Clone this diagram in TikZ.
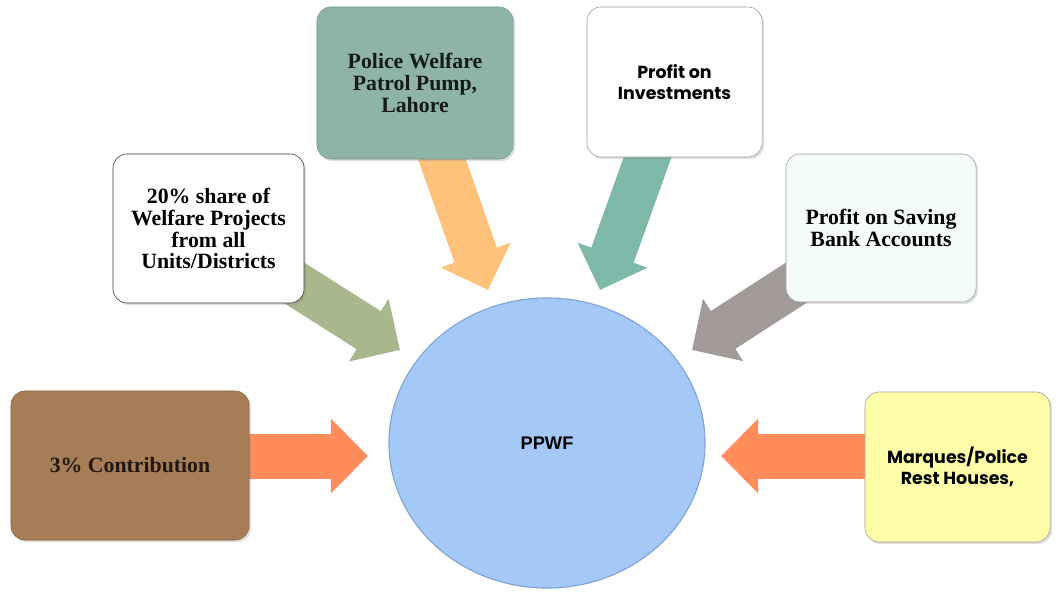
\documentclass[tikz,border=0pt]{standalone}
\usepackage{fontspec}
\usepackage{tikz}
\usetikzlibrary{shapes,arrows.meta,shadows,calc}
\newfontfamily\timesfont{Liberation Serif}
\newfontfamily\gothicfont{Poppins}
\newfontfamily\arialfont{Liberation Sans}
\pgfdeclarelayer{background}
\pgfsetlayers{background,main}
\definecolor{hubfill}{HTML}{A4C8F8}
\definecolor{hubline}{HTML}{7FA5D3}
\definecolor{pumpfill}{HTML}{8DB4A7}
\definecolor{pumpline}{HTML}{6F9788}
\definecolor{brownfill}{HTML}{A67D55}
\definecolor{brownline}{HTML}{87623F}
\definecolor{yellowfill}{HTML}{FFFFAA}
\definecolor{savefill}{HTML}{F4FBFB}
\definecolor{arrcoral}{HTML}{FF8C5A}
\definecolor{arrpeach}{HTML}{FFC27A}
\definecolor{arrteal}{HTML}{7DB8A8}
\definecolor{arrolive}{HTML}{A8B78C}
\definecolor{arrgray}{HTML}{A29A99}

\begin{document}
\begin{tikzpicture}[x=0.025cm,y=-0.025cm]
	\useasboundingbox (0,0) rectangle (1056,592);

	\tikzstyle{src}=[draw, rounded corners=0.35cm, align=center, inner sep=2pt,
		drop shadow={opacity=0.25, shadow xshift=1.5pt, shadow yshift=-1.5pt}]
	\tikzstyle{serifb}=[font=\timesfont\bfseries\fontsize{15.5}{15.6}\selectfont]
	\tikzstyle{gothicb}=[font=\gothicfont\bfseries\fontsize{12.4}{14.9}\selectfont]
	\tikzstyle{fat}=[line width=1.125cm, -{Triangle[length=0.925cm,width=1.8cm]}]

	%% Hub
	\node [ellipse, draw=hubline, thick, fill=hubfill, minimum width=7.9cm, minimum height=7.25cm,
		font=\arialfont\bfseries\fontsize{13}{15}\selectfont] (ppwf) at (547,443) {PPWF};

	%% Sources
	\node [src, serifb, fill=pumpfill, draw=pumpline, text=black!85!pumpfill,
		minimum width=4.9cm, minimum height=3.8cm] (pump) at (415,83) {Police Welfare\\Patrol Pump,\\Lahore};
	\node [src, serifb, fill=white, draw=black!80,
		minimum width=4.775cm, minimum height=3.725cm] (share) at (208.5,228.5) {20\% share of\\Welfare Projects\\from all\\Units/Districts};
	\node [src, gothicb, fill=white, draw=black!40,
		minimum width=4.375cm, minimum height=3.75cm] (invest) at (674.5,82) {Profit on\\Investments};
	\node [src, serifb, fill=savefill, draw=black!40,
		minimum width=4.75cm, minimum height=3.7cm] (saving) at (881,228) {Profit on Saving\\Bank Accounts};
	\node [src, serifb, fill=brownfill, draw=brownline, text=black!80!brownfill,
		minimum width=5.95cm, minimum height=3.725cm] (contrib) at (130,465.5) {3\% Contribution};
	\node [src, gothicb, fill=yellowfill, draw=black!40,
		minimum width=4.625cm, minimum height=3.75cm] (marq) at (957.5,467) {Marques/Police\\Rest Houses,};

	%% Arrow tips
	\coordinate (tshare) at (400,350);
	\coordinate (tpump) at (488,290);
	\coordinate (tinvest) at (600,290);
	\coordinate (tsaving) at (692,350);
	\coordinate (tcontrib) at (368,456);
	\coordinate (tmarq) at (721,456);

	%% Arrows
	\begin{pgfonlayer}{background}
		\draw [fat, draw=arrolive] (share.center) -- (tshare);
		\draw [fat, draw=arrpeach] (pump.center) -- (tpump);
		\draw [fat, draw=arrteal] (invest.center) -- (tinvest);
		\draw [fat, draw=arrgray] (saving.center) -- (tsaving);
		\draw [fat, draw=arrcoral] (contrib.center |- tcontrib) -- (tcontrib);
		\draw [fat, draw=arrcoral] (marq.center |- tmarq) -- (tmarq);
	\end{pgfonlayer}

\end{tikzpicture}
\end{document}
